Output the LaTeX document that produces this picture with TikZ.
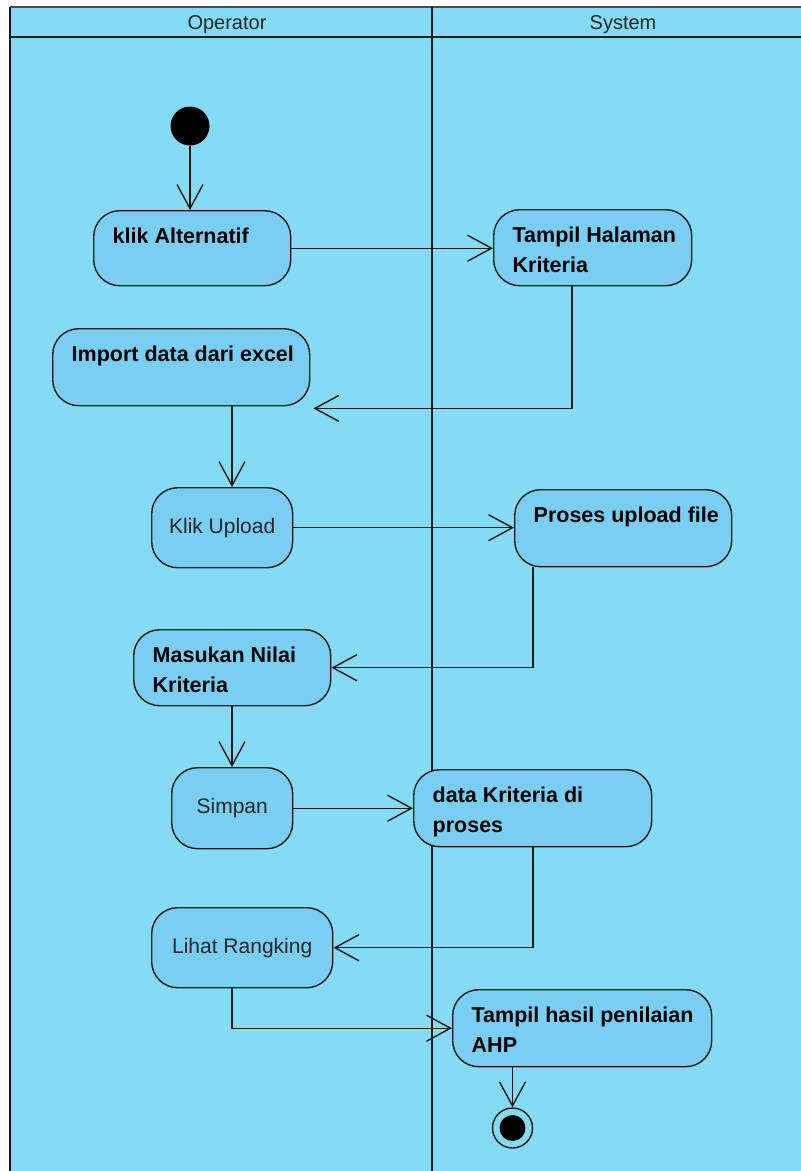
\documentclass[tikz,border=0pt]{standalone}
\usepackage{fontspec}
\setmainfont{Liberation Sans}
\usetikzlibrary{arrows.meta,calc}

\definecolor{lanefill}{HTML}{85DBF4}
\definecolor{actfill}{HTML}{79CEF2}
\definecolor{edge}{HTML}{1A1A1A}

% text block of an action: fixed size, first baseline 33pt below the top
\newcommand\acttxt[3]{\parbox[c][#2pt][t]{#1pt}{\raggedright\leftskip=19pt\relax
  \fontsize{21.5}{30}\selectfont\bfseries\rule{0pt}{33pt}#3\par}}

\tikzset{
  act/.style={draw=edge, fill=actfill, line width=1.4pt, rounded corners=26pt,
    inner sep=0pt, anchor=north west},
  plainact/.style={act, font=\fontsize{21}{26}\selectfont, text=black!85},
  flow/.style={draw=edge, line width=1.4pt,
    -{Straight Barb[length=24pt,width=26pt,line width=1.4pt]}},
  lanehead/.style={font=\fontsize{20}{24}\selectfont, text=black!85}
}

\begin{document}
\begin{tikzpicture}[x=1pt,y=-1pt]
\useasboundingbox (0,0) rectangle (801,1171);
\fill[white] (0,0) rectangle (801,1171);

% swimlanes
\fill[lanefill] (10,7) rectangle (815,1180);
\draw[black!70, line width=1.5pt] (10,7) -- (815,7);
\draw[edge, line width=1.6pt] (10,7) -- (10,1180);
\draw[edge, line width=1.6pt] (10,37) -- (815,37);
\draw[edge, line width=1.6pt] (432,7) -- (432,1180);
\node[lanehead] (hop) at (227,25) {Operator};
\node[lanehead] (hsy) at (623,25) {System};

% initial and final states
\node[circle, fill=black, minimum size=39pt, inner sep=0pt] (start) at (190,126) {};
\node[circle, draw=edge, line width=1.4pt, fill=lanefill, minimum size=40pt, inner sep=0pt] (stop) at (512.5,1128) {};
\fill[black] (stop.center) circle (13pt);

% actions
\node[act] (klik) at (93,210) {\acttxt{197}{75}{klik Alternatif}};
\node[act] (tph) at (493,209) {\acttxt{198}{76}{Tampil Halaman\\Kriteria}};
\node[act] (imp) at (52,328) {\acttxt{257}{77}{Import data dari excel}};
\node[plainact, minimum width=141pt, minimum height=80pt] (upl) at (151,487) {Klik Upload};
\node[act] (pro) at (514,489) {\acttxt{217}{77}{Proses upload file}};
\node[act] (mas) at (133,629) {\acttxt{197}{76}{Masukan Nilai\\Kriteria}};
\node[plainact, minimum width=121pt, minimum height=81pt] (sim) at (171,767) {Simpan};
\node[act] (dat) at (413,769) {\acttxt{238}{77}{data Kriteria di\\proses}};
\node[plainact, minimum width=181pt, minimum height=80pt] (lih) at (151,907) {Lihat Rangking};
\node[act] (thp) at (452,989) {\acttxt{259}{77}{Tampil hasil penilaian\\AHP}};

% guide coordinates for connectors that leave off-centre
\coordinate (g232) at (232,0);
\coordinate (g572) at (572,0);
\coordinate (g533) at (533,0);

% control flows
\draw[flow] (start) -- (start |- klik.north);
\draw[flow] (klik.east) -- (klik.east -| tph.west);
\draw[flow] (tph.south -| g572) |- ([shift={(3,2)}]imp.south east);
\draw[flow] (imp.south -| g232) -- (upl.north -| g232);
\draw[flow] (upl.east) -- (upl.east -| pro.west);
\draw[flow] (pro.south -| g533) |- (mas.east);
\draw[flow] (mas.south -| g232) -- (sim.north -| g232);
\draw[flow] (sim.east) -- (sim.east -| dat.west);
\draw[flow] (dat.south -| g533) |- (lih.east);
\draw[flow] (lih.south -| g232) |- (thp.west);
\draw[flow] (thp.south -| stop) -- (stop.north);
\end{tikzpicture}
\end{document}
